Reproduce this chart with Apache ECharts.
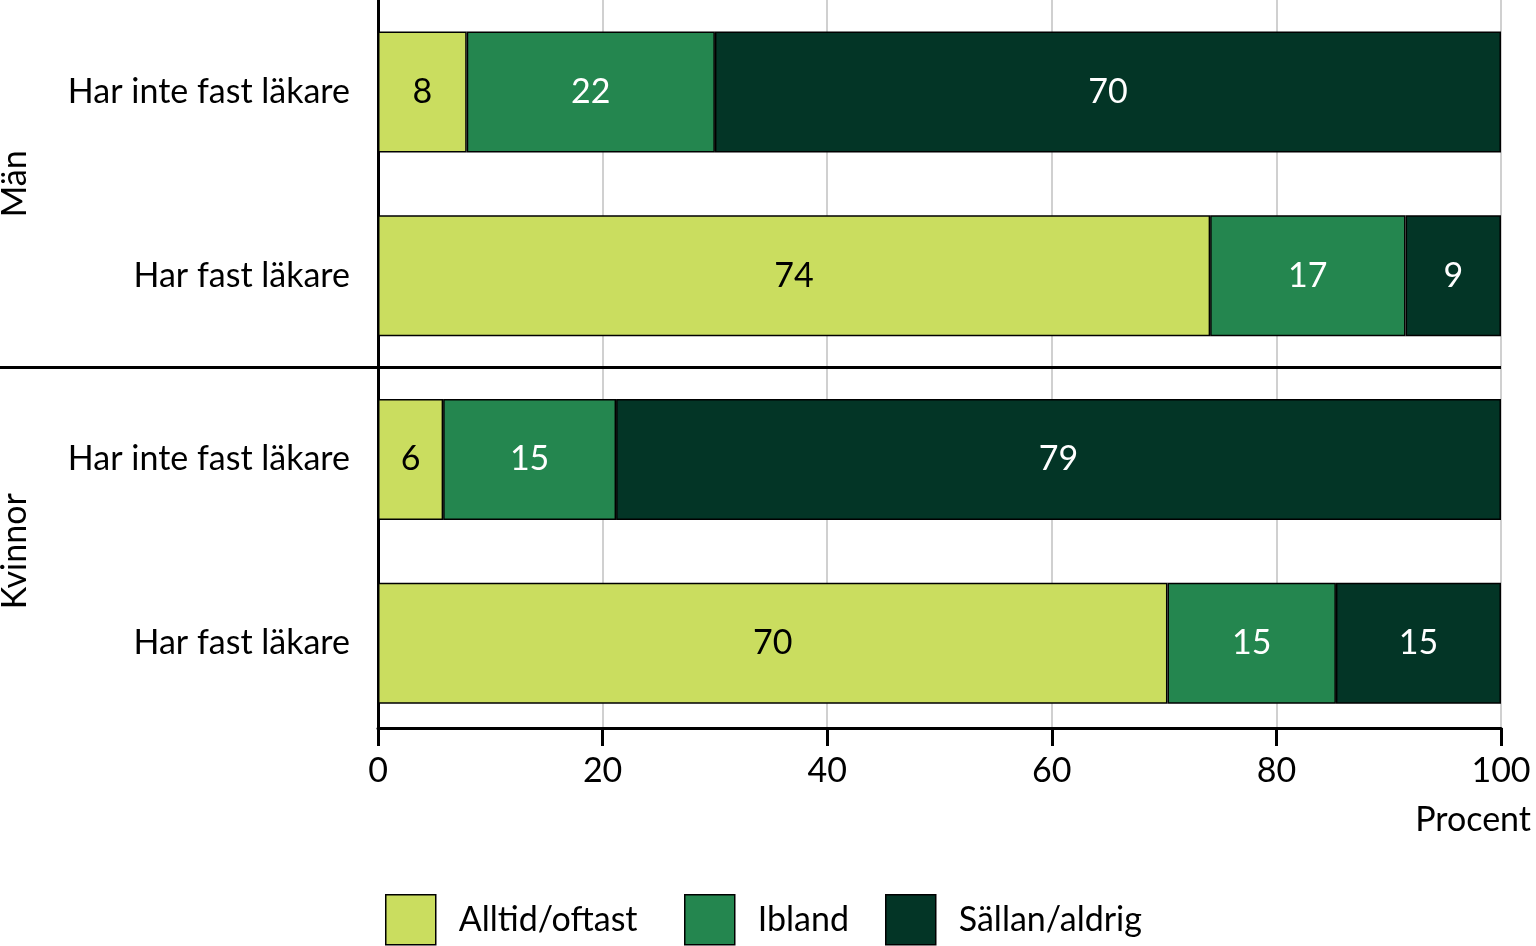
<!DOCTYPE html>
<html><head><meta charset="utf-8">
<script src="https://cdn.jsdelivr.net/npm/echarts@6/dist/echarts.min.js"></script>
<style>html,body{margin:0;padding:0;background:#fff}#c{width:1536px;height:946px}</style>
</head><body><div id="c"></div>
<script>
const categories = ['Har inte fast läkare', 'Har fast läkare', 'Har inte fast läkare', 'Har fast läkare'];
const groups = ['Män', 'Kvinnor'];
const seriesNames = ['Alltid/oftast', 'Ibland', 'Sällan/aldrig'];
const alltid = [7.9, 74.1, 5.8, 70.3];
const ibland = [22.1, 17.4, 15.4, 15.0];
const sallan = [70.0, 8.5, 78.8, 14.7];
const xTicks = [0, 20, 40, 60, 80, 100];
const axisTitle = 'Procent';

const FONT = 'Lato';
const FS = 34;
const colors = ['#cadd5f', '#24864f', '#033526'];
const labelColors = ['#000', '#fff', '#fff'];
const chart = echarts.init(document.getElementById('c'));
const vals = [alltid, ibland, sallan];
const series = seriesNames.map((n, i) => ({
  name: n, type: 'bar', stack: 'a', barWidth: 121,
  data: vals[i],
  itemStyle: { color: colors[i], borderColor: '#000', borderWidth: 1.5 },
  label: { show: true, position: 'inside', fontFamily: FONT, fontSize: FS, color: labelColors[i],
    formatter: p => Math.round(p.value) },
  emphasis: { disabled: true }
}));
const legendLefts = [385, 684, 885];
const legends = seriesNames.map((n, i) => ({
  left: legendLefts[i], top: 894, padding: 0, itemWidth: 50, itemHeight: 50,
  icon: 'rect', selectedMode: false,
  textStyle: { fontFamily: FONT, fontSize: FS, color: '#000', padding: [0, 0, 0, 18] },
  itemStyle: { borderColor: '#000', borderWidth: 1.5 },
  data: [n]
}));
chart.setOption({
  animation: false,
  grid: { left: 378, right: 35, top: 0, height: 735 },
  xAxis: {
    type: 'value', min: xTicks[0], max: xTicks[xTicks.length - 1], interval: 20, offset: -7,
    axisLine: { show: true, lineStyle: { color: '#000', width: 3 } },
    axisTick: { show: true, length: 18, lineStyle: { color: '#000', width: 3 } },
    axisLabel: { fontFamily: FONT, fontSize: FS, color: '#000', margin: 26 },
    splitLine: { show: true, lineStyle: { color: '#c0c0c0', width: 1.5 } }
  },
  yAxis: {
    type: 'category', data: categories, inverse: true,
    axisLine: { show: true, lineStyle: { color: '#000', width: 3 } },
    axisTick: { show: false },
    axisLabel: { fontFamily: FONT, fontSize: FS, color: '#000', margin: 28 }
  },
  legend: legends,
  series
});
const y0 = chart.convertToPixel({ yAxisIndex: 0 }, 0);
const y1 = chart.convertToPixel({ yAxisIndex: 0 }, 1);
const y2 = chart.convertToPixel({ yAxisIndex: 0 }, 2);
const y3 = chart.convertToPixel({ yAxisIndex: 0 }, 3);
const xEnd = chart.convertToPixel({ xAxisIndex: 0 }, 100);
const ySep = (y1 + y2) / 2;
chart.setOption({
  graphic: [
    { type: 'line', shape: { x1: 0, y1: ySep, x2: xEnd, y2: ySep }, style: { stroke: '#000', lineWidth: 3 }, z: 10 },
    { type: 'text', x: 15, y: (y0 + y1) / 2, rotation: Math.PI / 2,
      style: { text: groups[0], font: FS + 'px ' + FONT, fill: '#000', align: 'center', verticalAlign: 'middle' } },
    { type: 'text', x: 15, y: (y2 + y3) / 2, rotation: Math.PI / 2,
      style: { text: groups[1], font: FS + 'px ' + FONT, fill: '#000', align: 'center', verticalAlign: 'middle' } },
    { type: 'text', x: 1531, y: 820, style: { text: axisTitle, font: FS + 'px ' + FONT, fill: '#000', align: 'right', verticalAlign: 'middle' } }
  ]
});
</script></body></html>
